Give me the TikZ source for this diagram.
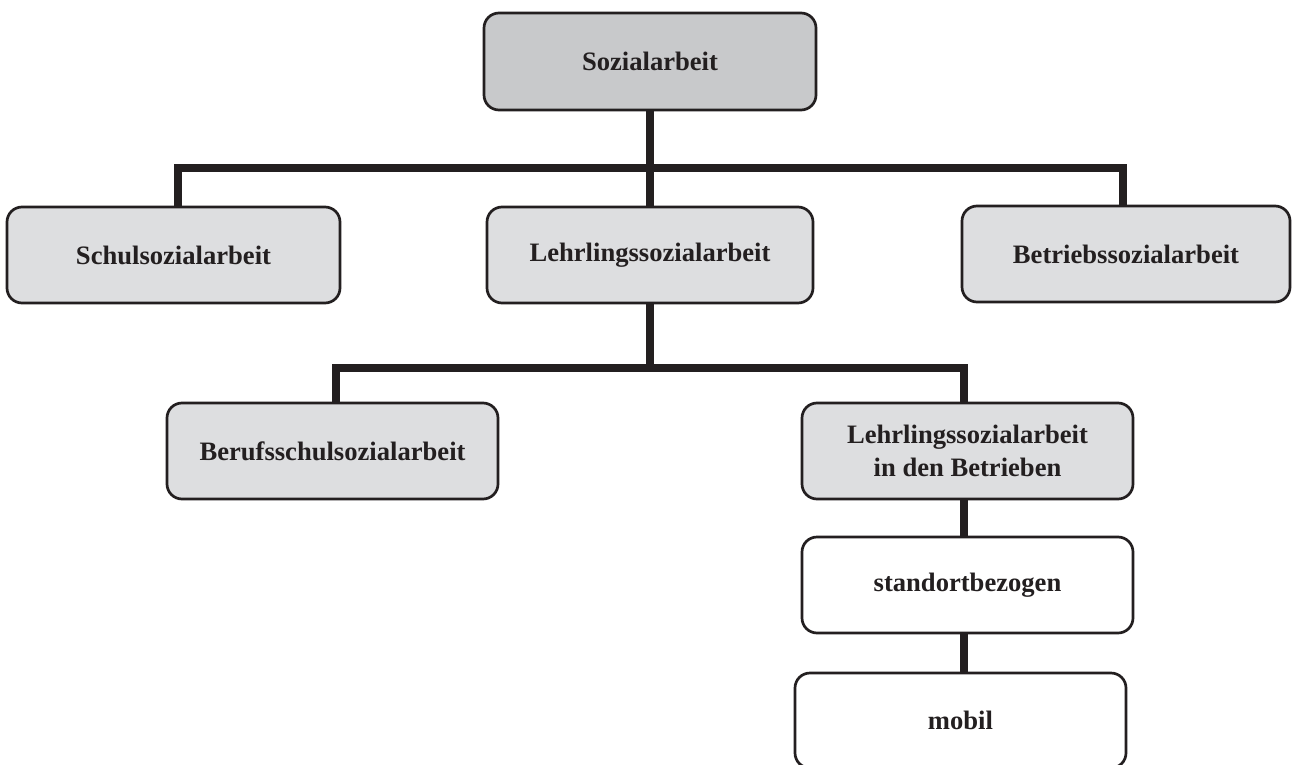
\documentclass[tikz,border=0pt]{standalone}
\usepackage{fontspec}
\setmainfont{Liberation Serif}
\definecolor{ink}{HTML}{231F20}
\definecolor{topgray}{HTML}{C8C9CB}
\definecolor{boxgray}{HTML}{DDDEE0}
\begin{document}
\begin{tikzpicture}[x=1pt,y=-1pt,
  box/.style={draw=ink, line width=2.7pt, rounded corners=15pt, minimum height=96pt,
    inner sep=0pt, align=center, text=ink,
    font=\bfseries\fontsize{26.6}{33}\selectfont},
  topbox/.style={box, fill=topgray},
  graybox/.style={box, fill=boxgray},
  whitebox/.style={box, fill=white},
  conn/.style={draw=ink, line width=8pt, line cap=butt, line join=miter}]
\useasboundingbox (0,0) rectangle (1292,765);
\fill[white] (0,0) rectangle (1292,765);

\node[topbox, minimum width=332pt, minimum height=97pt] (soz) at (650,61.5) {Sozialarbeit};
\node[graybox, minimum width=333pt] (schul) at (173.5,255) {Schulsozialarbeit};
\node[graybox, minimum width=326pt] (lehr) at (650,255) {Lehrlingssozialarbeit};
\node[graybox, minimum width=328pt] (betr) at (1126,254) {Betriebssozialarbeit};
\node[graybox, minimum width=331pt] (beruf) at (332.5,451) {Berufsschulsozialarbeit};
\node[graybox, minimum width=331pt] (lbetr) at (967.5,451) {Lehrlingssozialarbeit\\in den Betrieben};
\node[whitebox, minimum width=331pt] (stand) at (967.5,585) {standortbezogen};
\node[whitebox, minimum width=331pt, minimum height=95pt] (mobil) at (960.5,720.5) {mobil};

\coordinate (bus1) at (650,168);
\coordinate (bus2) at (650,368);

\draw[conn] (soz.south) -- (lehr.north);
\draw[conn] ([xshift=4.5pt]schul.north) |- (bus1) -| ([xshift=-3pt]betr.north);
\draw[conn] (lehr.south) -- (bus2);
\draw[conn] ([xshift=3.5pt]beruf.north) |- (bus2) -| ([xshift=-3.5pt]lbetr.north);
\draw[conn] ([xshift=-3.5pt]lbetr.south) -- ([xshift=-3.5pt]stand.north);
\draw[conn] ([xshift=-3.5pt]stand.south) -- ([xshift=3.5pt]mobil.north);
\end{tikzpicture}
\end{document}
